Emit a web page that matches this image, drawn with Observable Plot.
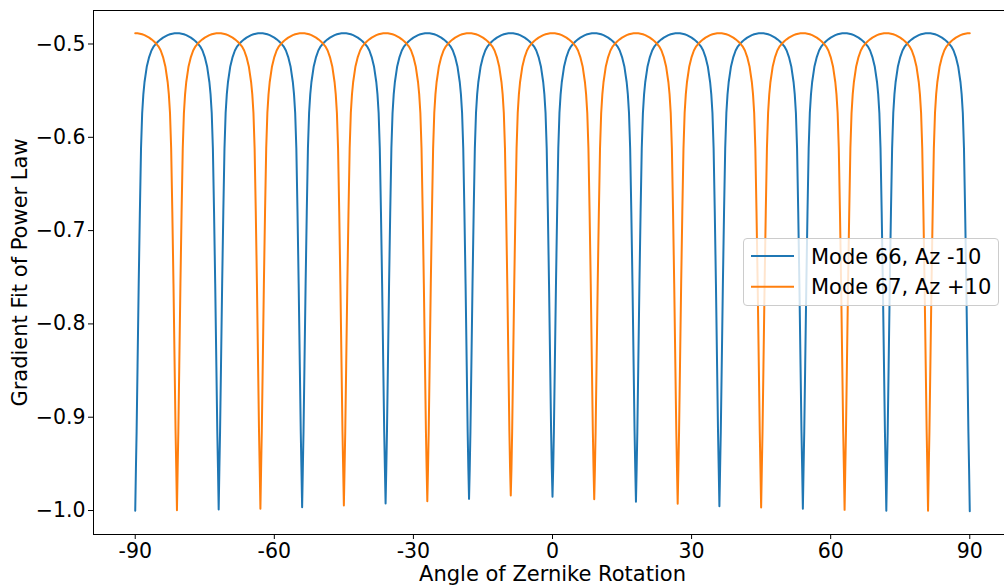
<!DOCTYPE html>
<html>
<head>
<meta charset="utf-8">
<script src="https://cdn.jsdelivr.net/npm/d3@7"></script>
<script src="https://cdn.jsdelivr.net/npm/@observablehq/plot@0.6"></script>
<style>
  html, body { margin: 0; padding: 0; background: #fff; overflow: hidden; }
  #wrap { position: relative; width: 1004px; height: 587px; font-family: "DejaVu Sans", sans-serif; }
  #chart svg { overflow: visible; }
  #legend { position: absolute; left: 743px; top: 238px; width: 256px; height: 68px; box-sizing: border-box;
            border: 1px solid #cccccc; border-radius: 4px; background: rgba(255,255,255,0.8); }
  #legend svg { position: absolute; left: 0; top: 0; }
</style>
</head>
<body>
<div id="wrap">
  <div id="chart"></div>
  <div id="legend"></div>
</div>
<script>
// ---- data ----
const seriesNames = ["Mode 66, Az -10", "Mode 67, Az +10"];
const seriesColors = ["#1f77b4", "#ff7f0e"];

// angles (deg) of each dip and the lowest value reached there
const dipAngles66 = [-90, -72, -54, -36, -18, 0, 18, 36, 54, 72, 90];
const dipMinima66 = [-1.0003, -0.9990, -0.9965, -0.9925, -0.9875, -0.9853, -0.9907, -0.9954, -0.9982, -1.0003, -1.0008];
const dipAngles67 = [-81, -63, -45, -27, -9, 9, 27, 45, 63, 81];
const dipMinima67 = [-0.9997, -0.9980, -0.9946, -0.9900, -0.9840, -0.9880, -0.9928, -0.9968, -0.9993, -1.0003];

// shape of one dip: distance from the dip (deg) and the value there
const dipOffsets = [0.15, 0.3, 0.5, 0.75, 1, 1.25, 1.5, 1.75, 2, 2.5, 3, 3.5, 4, 4.5, 5, 5.5, 6, 6.5, 7, 7.5, 8, 8.5, 9];
const dipShape   = [-0.955, -0.915, -0.845, -0.757, -0.680, -0.612, -0.574, -0.554, -0.541, -0.524, -0.514, -0.507,
                    -0.5025, -0.4995, -0.4970, -0.4950, -0.4932, -0.4918, -0.4905, -0.4896, -0.4890, -0.4886, -0.4885];

const xTicks = [-90, -60, -30, 0, 30, 60, 90];
const yTicks = [-1.0, -0.9, -0.8, -0.7, -0.6, -0.5];

// ---- build the table for Plot ----
function buildSeries(name, angles, minima) {
  const m = new Map();
  angles.forEach((c, k) => {
    m.set(c, minima[k]);
    dipOffsets.forEach((o, i) => {
      for (const a of [c - o, c + o]) {
        if (a >= -90 && a <= 90) {
          const key = Math.round(a * 1000) / 1000;
          if (!m.has(key)) m.set(key, dipShape[i]);
        }
      }
    });
  });
  return Array.from(m, ([angle, value]) => ({series: name, angle, value}))
    .sort((a, b) => a.angle - b.angle);
}
const rows = [
  ...buildSeries(seriesNames[0], dipAngles66, dipMinima66),
  ...buildSeries(seriesNames[1], dipAngles67, dipMinima67)
];

const chart = Plot.plot({
  width: 1004,
  height: 587,
  marginLeft: 93,
  marginRight: -7,
  marginTop: 10,
  marginBottom: 53,
  style: {fontFamily: "DejaVu Sans, sans-serif", fontSize: "20px", color: "#000", background: "#fff", overflow: "visible"},
  x: {domain: [-99, 99]},
  y: {domain: [-1.0257, -0.4641]},
  color: {domain: seriesNames, range: seriesColors},
  marks: [
    Plot.line(rows, {x: "angle", y: "value", z: "series", stroke: "series", strokeWidth: 2}),
    Plot.frame({stroke: "#000", strokeWidth: 1}),
    Plot.axisX({ticks: xTicks, tickFormat: d => String(d), tickSize: 5, tickPadding: 4, fontSize: 20.5, label: null}),
    Plot.axisX({ticks: [], tickSize: 0, fontSize: 21,
                label: "Angle of Zernike Rotation", labelAnchor: "center", labelArrow: "none", labelOffset: 46}),
    Plot.axisY({ticks: yTicks, tickFormat: d3.format(".1f"), tickSize: 5, tickPadding: 3, fontSize: 20.5, label: null}),
    Plot.axisY({ticks: [], tickSize: 0, fontSize: 21,
                label: "Gradient Fit of Power Law", labelAnchor: "center", labelArrow: "none", labelOffset: 81})
  ]
});
document.getElementById("chart").appendChild(chart);

// legend (real text)
const lg = d3.select("#legend").append("svg").attr("width", 256).attr("height", 68)
  .style("font-family", "DejaVu Sans, sans-serif");
seriesNames.forEach((name, i) => {
  const cy = 17 + i * 30.7;
  lg.append("line").attr("x1", 7).attr("x2", 50).attr("y1", cy).attr("y2", cy)
    .attr("stroke", seriesColors[i]).attr("stroke-width", 2);
  lg.append("text").attr("x", 67).attr("y", cy + 7.5).attr("font-size", 21).attr("fill", "#000").text(name);
});
</script>
</body>
</html>
